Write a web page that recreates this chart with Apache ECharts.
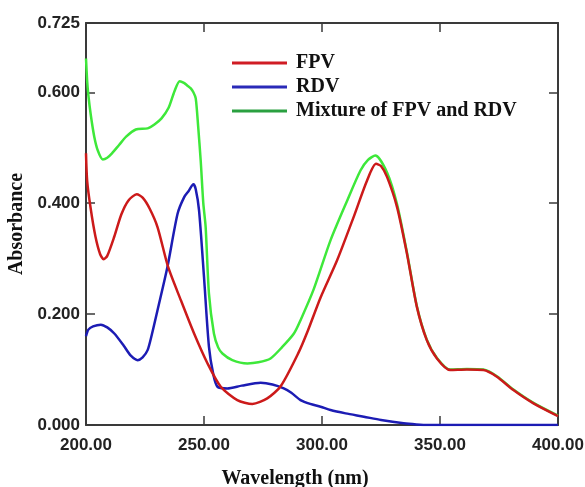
<!DOCTYPE html>
<html>
<head>
<meta charset="utf-8">
<script src="https://cdn.jsdelivr.net/npm/echarts@6/dist/echarts.min.js"></script>
<style>
  html, body { margin: 0; padding: 0; background: #fff; }
  #chart { width: 585px; height: 487px; }
</style>
</head>
<body>
<div id="chart"></div>
<script>
// UV spectra: FPV, RDV and their mixture

const SERIES_NAMES = ['FPV', 'RDV', 'Mixture of FPV and RDV'];

const fpvWl  = [200, 200.5, 202, 204, 206, 207.5, 209, 212, 215, 218, 221.5, 224, 227, 230.3, 234.8, 240.2, 245.8, 251.5, 257.1, 264.1, 270.5, 276.8, 282.5, 290, 294, 299.4, 306.4, 313.4, 319.1, 322.9, 325, 327.6, 331.8, 336, 340.2, 344.4, 348.7, 354.3, 361.4, 368.4, 374.1, 381.1, 389.6, 400];
const fpvAbs = [0.49, 0.44, 0.39, 0.34, 0.308, 0.299, 0.305, 0.34, 0.38, 0.405, 0.416, 0.41, 0.39, 0.357, 0.285, 0.225, 0.165, 0.111, 0.069, 0.045, 0.038, 0.048, 0.07, 0.13, 0.17, 0.23, 0.297, 0.375, 0.441, 0.471, 0.467, 0.447, 0.393, 0.309, 0.213, 0.153, 0.12, 0.099, 0.1, 0.099, 0.087, 0.063, 0.039, 0.016];

const rdvWl  = [200, 201, 203, 206.3, 209, 212, 216, 219, 221.9, 224, 226.1, 228, 230.3, 234.5, 238.8, 241.6, 243.5, 245.5, 246.5, 247.9, 250, 252.1, 254, 255.7, 259.9, 266, 274, 279, 283.8, 287, 290.9, 295, 299.4, 303.6, 310, 317.7, 325, 334.6, 340, 345, 400];
const rdvAbs = [0.16, 0.172, 0.178, 0.181, 0.176, 0.165, 0.143, 0.125, 0.117, 0.122, 0.135, 0.165, 0.207, 0.285, 0.381, 0.411, 0.422, 0.434, 0.425, 0.387, 0.267, 0.141, 0.09, 0.069, 0.066, 0.071, 0.076, 0.073, 0.066, 0.058, 0.045, 0.038, 0.033, 0.027, 0.021, 0.015, 0.009, 0.003, 0.001, 0, 0];

const mixWl  = [200, 200.5, 201, 202, 203.5, 205, 207.1, 209, 211, 214, 217, 221.1, 226.1, 229, 232, 235, 237.5, 239.7, 241.5, 243, 244.4, 245.5, 246.5, 247.5, 248.6, 249.7, 250.7, 252.1, 254.2, 256, 257.8, 262, 268.4, 273, 278.2, 283, 288.1, 291, 296.5, 303.6, 310.7, 316.3, 319.5, 322.6, 327.6, 331.8, 336, 340.2, 344.4, 348.7, 354.3, 361.4, 368.4, 374.1, 381.1, 389.6, 400];
const mixAbs = [0.661, 0.62, 0.595, 0.56, 0.52, 0.495, 0.479, 0.482, 0.49, 0.505, 0.52, 0.533, 0.535, 0.542, 0.553, 0.572, 0.602, 0.62, 0.617, 0.612, 0.607, 0.6, 0.589, 0.54, 0.477, 0.4, 0.357, 0.237, 0.165, 0.14, 0.129, 0.117, 0.111, 0.113, 0.12, 0.14, 0.165, 0.19, 0.245, 0.333, 0.405, 0.459, 0.478, 0.486, 0.455, 0.398, 0.311, 0.214, 0.154, 0.121, 0.1, 0.101, 0.1, 0.088, 0.064, 0.04, 0.017];

const X_TICKS = { min: 200, max: 400, step: 50 };
const Y_TICKS = { min: 0, max: 0.725, step: 0.2 };

const pairs = (xs, ys) => xs.map((x, i) => [x, ys[i]]);

const AXIS_COLOR = '#3a3a3a';
const SERIF = "'Liberation Serif', 'DejaVu Serif', serif";
const SANS = "'Liberation Sans', Arial, sans-serif";
const SMOOTH = 0.25;

const frameAxis = {
  axisLine: { show: true, onZero: false, lineStyle: { color: AXIS_COLOR, width: 2 } },
  axisTick: { show: true, inside: true, length: 9, lineStyle: { color: AXIS_COLOR, width: 1.5 } },
  splitLine: { show: false }
};

const chart = echarts.init(document.getElementById('chart'), null, { renderer: 'canvas' });

chart.setOption({
  animation: false,
  backgroundColor: '#fff',
  grid: { left: 86, right: 27, top: 23, bottom: 62, containLabel: false, outerBoundsMode: 'none' },
  legend: {
    orient: 'vertical',
    left: 227,
    top: 48,
    icon: 'rect',
    itemWidth: 55,
    itemHeight: 3,
    itemGap: 4,
    textStyle: { fontFamily: SERIF, fontWeight: 'bold', fontSize: 20, color: '#111', padding: [0, 0, 0, 4] },
    data: [
      { name: SERIES_NAMES[0], itemStyle: { color: '#d01c24' } },
      { name: SERIES_NAMES[1], itemStyle: { color: '#2a2ab8' } },
      { name: SERIES_NAMES[2], itemStyle: { color: '#2aa040' } }
    ]
  },
  xAxis: [
    Object.assign({}, frameAxis, {
      type: 'value', position: 'bottom',
      min: X_TICKS.min, max: X_TICKS.max, interval: X_TICKS.step,
      name: 'Wavelength (nm)',
      nameLocation: 'middle',
      nameGap: 44,
      nameTextStyle: { fontFamily: SERIF, fontWeight: 'bold', fontSize: 20, color: '#111', padding: [0, 54, 0, 0] },
      axisLabel: {
        margin: 12, fontFamily: SANS, fontWeight: 'bold', fontSize: 17, color: '#222',
        formatter: v => v.toFixed(2)
      }
    }),
    Object.assign({}, frameAxis, {
      type: 'value', position: 'top',
      min: X_TICKS.min, max: X_TICKS.max, interval: X_TICKS.step,
      axisLabel: { show: false }
    })
  ],
  yAxis: [
    Object.assign({}, frameAxis, {
      type: 'value', position: 'left',
      min: Y_TICKS.min, max: Y_TICKS.max, interval: Y_TICKS.step,
      name: 'Absorbance',
      nameLocation: 'middle',
      nameRotate: 90,
      nameGap: 53,
      nameTextStyle: { fontFamily: SERIF, fontWeight: 'bold', fontSize: 20, color: '#111' },
      axisLabel: {
        margin: 6, fontFamily: SANS, fontWeight: 'bold', fontSize: 17, color: '#222',
        formatter: v => v.toFixed(3)
      }
    }),
    Object.assign({}, frameAxis, {
      type: 'value', position: 'right',
      min: Y_TICKS.min, max: Y_TICKS.max, interval: Y_TICKS.step,
      axisLabel: { show: false }
    })
  ],
  series: [
    {
      name: SERIES_NAMES[2], type: 'line', data: pairs(mixWl, mixAbs),
      showSymbol: false, smooth: SMOOTH, z: 1,
      lineStyle: { color: '#3ee83a', width: 2.5 }, itemStyle: { color: '#2aa040' }
    },
    {
      name: SERIES_NAMES[1], type: 'line', data: pairs(rdvWl, rdvAbs),
      showSymbol: false, smooth: SMOOTH, z: 2,
      lineStyle: { color: '#1c1cb4', width: 2.5 }, itemStyle: { color: '#2a2ab8' }
    },
    {
      name: SERIES_NAMES[0], type: 'line', data: pairs(fpvWl, fpvAbs),
      showSymbol: false, smooth: SMOOTH, z: 3,
      lineStyle: { color: '#cc1a1a', width: 2.5 }, itemStyle: { color: '#d01c24' }
    }
  ]
});
</script>
</body>
</html>
